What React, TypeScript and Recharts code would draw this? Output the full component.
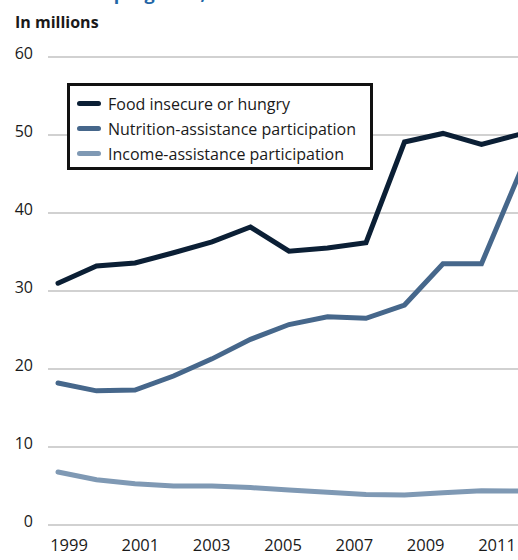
// Food insecurity vs. assistance participation, 1999–2011
import { LineChart, Line, XAxis, YAxis, CartesianGrid, Legend } from 'recharts';

const years = [1999, 2000, 2001, 2002, 2003, 2004, 2005, 2006, 2007, 2008, 2009, 2010, 2011];
const foodInsecure = [31.0, 33.2, 33.6, 34.9, 36.3, 38.2, 35.1, 35.5, 36.2, 49.1, 50.2, 48.8, 50.1];
const nutritionAssist = [18.2, 17.2, 17.3, 19.1, 21.3, 23.8, 25.7, 26.7, 26.5, 28.2, 33.5, 33.5, 45.2];
const incomeAssist = [6.8, 5.8, 5.3, 5.0, 5.0, 4.8, 4.5, 4.2, 3.9, 3.85, 4.15, 4.4, 4.35];
const yTicks = [0, 10, 20, 30, 40, 50, 60];
const yearTicks = [1999, 2001, 2003, 2005, 2007, 2009, 2011];
const seriesNames = [
    'Food insecure or hungry',
    'Nutrition-assistance participation',
    'Income-assistance participation',
];

const FONT = '"Open Sans", "Noto Sans", sans-serif';

const rows = years.map((year, i) => ({
    year,
    food: foodInsecure[i],
    nutrition: nutritionAssist[i],
    income: incomeAssist[i],
}));

const YTick = (props: any) => (
    <text x={props.x - 15} y={props.y + 2} textAnchor="end" fontSize={16} fill="#1a1a1a" fontFamily={FONT}>
        {props.payload.value}
    </text>
);

const XTick = (props: any) => (
    <text x={props.x} y={props.y + 26} textAnchor="middle" fontSize={16.5} fill="#1a1a1a" fontFamily={FONT}>
        {props.payload.value}
    </text>
);

// keep the legend in series order rather than alphabetical
const LegendBox = (props: any) => {
    const items = [...(props.payload || [])].sort(
        (a: any, b: any) => seriesNames.indexOf(a.value) - seriesNames.indexOf(b.value)
    );
    return (
        <div
            style={{
                boxSizing: 'border-box',
                width: 306,
                height: 87,
                border: '3px solid #111',
                background: '#fff',
                padding: '5px 0 0 7px',
                fontFamily: FONT,
            }}
        >
            {items.map((entry: any) => (
                <div key={entry.value} style={{ display: 'flex', alignItems: 'center', height: 25 }}>
                    <span
                        style={{
                            display: 'inline-block',
                            width: 24,
                            height: 5,
                            borderRadius: 3,
                            background: entry.color,
                            marginRight: 7,
                        }}
                    />
                    <span style={{ fontSize: 16, color: '#1a1a1a' }}>{entry.value}</span>
                </div>
            ))}
        </div>
    );
};

export default function App() {
    return (
        <div
            style={{
                position: 'fixed',
                left: 0,
                top: 0,
                width: 518,
                height: 560,
                overflow: 'hidden',
                background: '#fff',
            }}
        >
            <div
                style={{
                    position: 'absolute',
                    left: 14,
                    top: -16,
                    fontFamily: FONT,
                    fontWeight: 700,
                    fontSize: 18,
                    lineHeight: '18px',
                    color: '#2266a6',
                    whiteSpace: 'nowrap',
                    zIndex: 2,
                }}
            >
                Assistance programs, 1999–2011
            </div>
            <div
                style={{
                    position: 'absolute',
                    left: 15,
                    top: 14,
                    fontFamily: FONT,
                    fontWeight: 700,
                    fontSize: 16,
                    lineHeight: '16px',
                    color: '#1a1a1a',
                    zIndex: 2,
                }}
            >
                In millions
            </div>
            <LineChart width={540} height={560} data={rows} margin={{ top: 57, right: 20, bottom: 0, left: 0 }}>
                <CartesianGrid vertical={false} stroke="#a3a3a3" strokeWidth={1} xAxisId="data" />
                <XAxis
                    xAxisId="lab"
                    dataKey="year"
                    type="number"
                    domain={[1999, 2011]}
                    ticks={yearTicks}
                    padding={{ left: 21, right: 23 }}
                    height={35}
                    axisLine={false}
                    tickLine={false}
                    tickSize={0}
                    tickMargin={0}
                    interval={0}
                    tick={<XTick />}
                />
                <XAxis
                    xAxisId="data"
                    dataKey="year"
                    type="number"
                    domain={[1999, 2011]}
                    padding={{ left: 10, right: 0 }}
                    height={0}
                    hide
                />
                <YAxis
                    domain={[0, 60]}
                    ticks={yTicks}
                    width={48}
                    axisLine={false}
                    tickLine={false}
                    tickSize={0}
                    tickMargin={0}
                    interval={0}
                    tick={<YTick />}
                />
                <Legend
                    layout="vertical"
                    align="center"
                    verticalAlign="middle"
                    content={<LegendBox />}
                    wrapperStyle={{ left: 67, top: 83, width: 306, height: 87 }}
                />
                <Line
                    xAxisId="data"
                    type="linear"
                    dataKey="food"
                    name={seriesNames[0]}
                    stroke="#0b1f35"
                    strokeWidth={5}
                    strokeLinecap="round"
                    dot={false}
                    isAnimationActive={false}
                />
                <Line
                    xAxisId="data"
                    type="linear"
                    dataKey="nutrition"
                    name={seriesNames[1]}
                    stroke="#46678b"
                    strokeWidth={5}
                    strokeLinecap="round"
                    dot={false}
                    isAnimationActive={false}
                />
                <Line
                    xAxisId="data"
                    type="linear"
                    dataKey="income"
                    name={seriesNames[2]}
                    stroke="#7f99b4"
                    strokeWidth={5}
                    strokeLinecap="round"
                    dot={false}
                    isAnimationActive={false}
                />
            </LineChart>
        </div>
    );
}
